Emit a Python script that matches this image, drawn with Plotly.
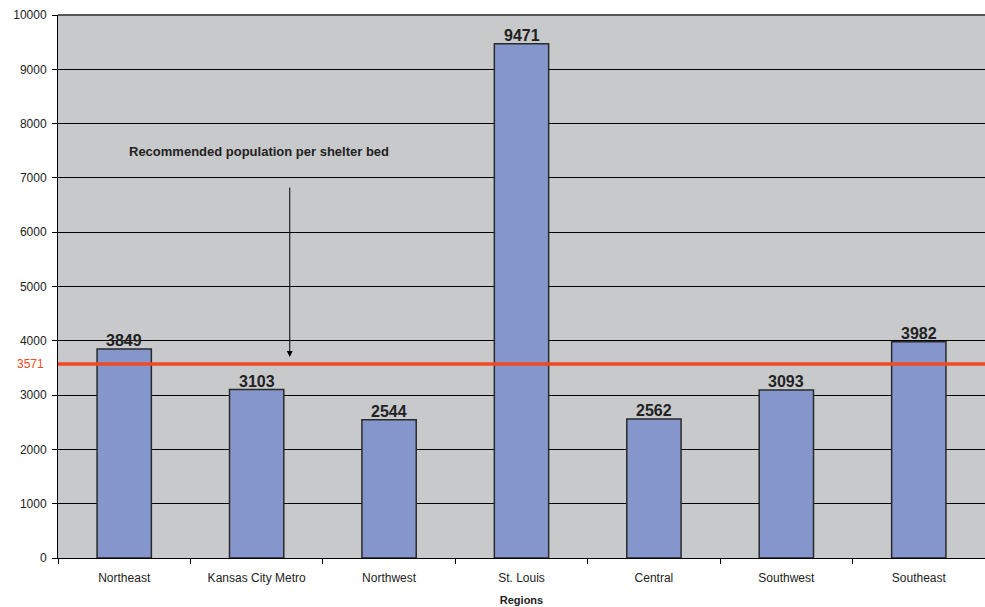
import plotly.graph_objects as go

regions = ["Northeast", "Kansas City Metro", "Northwest", "St. Louis", "Central", "Southwest", "Southeast"]
population_per_bed = [3849, 3103, 2544, 9471, 2562, 3093, 3982]
recommended = 3571
y_ticks = [0, 1000, 2000, 3000, 4000, 5000, 6000, 7000, 8000, 9000, 10000]

FONT = "Liberation Sans, Arial"

fig = go.Figure()
fig.add_trace(go.Bar(
    x=regions, y=population_per_bed,
    width=0.41,
    marker=dict(color="#8496CC", line=dict(color="#2a2a2a", width=1.5)),
))

for r, v in zip(regions, population_per_bed):
    fig.add_annotation(x=r, y=v, xref="x", yref="y", text=f"<b>{v}</b>", showarrow=False,
                       yanchor="bottom", yshift=-2,
                       font=dict(family=FONT, size=16, color="#222222"))

fig.add_shape(type="line", xref="paper", yref="y", x0=0, x1=1, y0=recommended, y1=recommended,
              line=dict(color="#F04A24", width=3.5))

fig.add_annotation(xref="paper", yref="y", x=0, y=recommended, xanchor="right", xshift=-12,
                   text=str(recommended), showarrow=False,
                   font=dict(family=FONT, size=12, color="#F04A24"))

fig.add_annotation(x=1.25, y=3700, ax=1.25, ay=6850, axref="x", ayref="y", xref="x", yref="y",
                   text="", showarrow=True, arrowhead=2, arrowsize=1.2, arrowwidth=1, arrowcolor="#000000")

fig.add_annotation(x=1.02, y=7480, xref="x", yref="y", text="<b>Recommended population per shelter bed</b>",
                   showarrow=False, font=dict(family=FONT, size=13, color="#222222"))

fig.update_layout(
    width=985, height=607,
    margin=dict(l=58, r=0, t=15, b=49),
    paper_bgcolor="white", plot_bgcolor="#C8C9CB",
    showlegend=False,
    bargap=0.59,
    font=dict(family=FONT, size=12, color="#222222"),
)
fig.update_xaxes(
    showline=True, linecolor="#000000", linewidth=1,
    ticks="outside", tickson="boundaries", ticklen=5, tickcolor="#000000",
    showgrid=False,
    ticklabelstandoff=9,
    title=dict(text="<b>Regions</b>", font=dict(size=11), standoff=11),
    tickfont=dict(size=12),
)
fig.update_yaxes(
    range=[0, 10000], tickvals=y_ticks, ticktext=[str(t) for t in y_ticks],
    showline=True, linecolor="#000000", linewidth=1,
    ticks="outside", ticklen=5, tickcolor="#000000",
    showgrid=True, gridcolor="#000000", gridwidth=1,
    zeroline=False, tickfont=dict(size=12),
    ticklabelstandoff=3,
)
fig.add_shape(type="line", xref="paper", yref="paper", x0=0, x1=1, y0=1, y1=1,
              line=dict(color="#555555", width=2))

fig.write_html("out.html")
